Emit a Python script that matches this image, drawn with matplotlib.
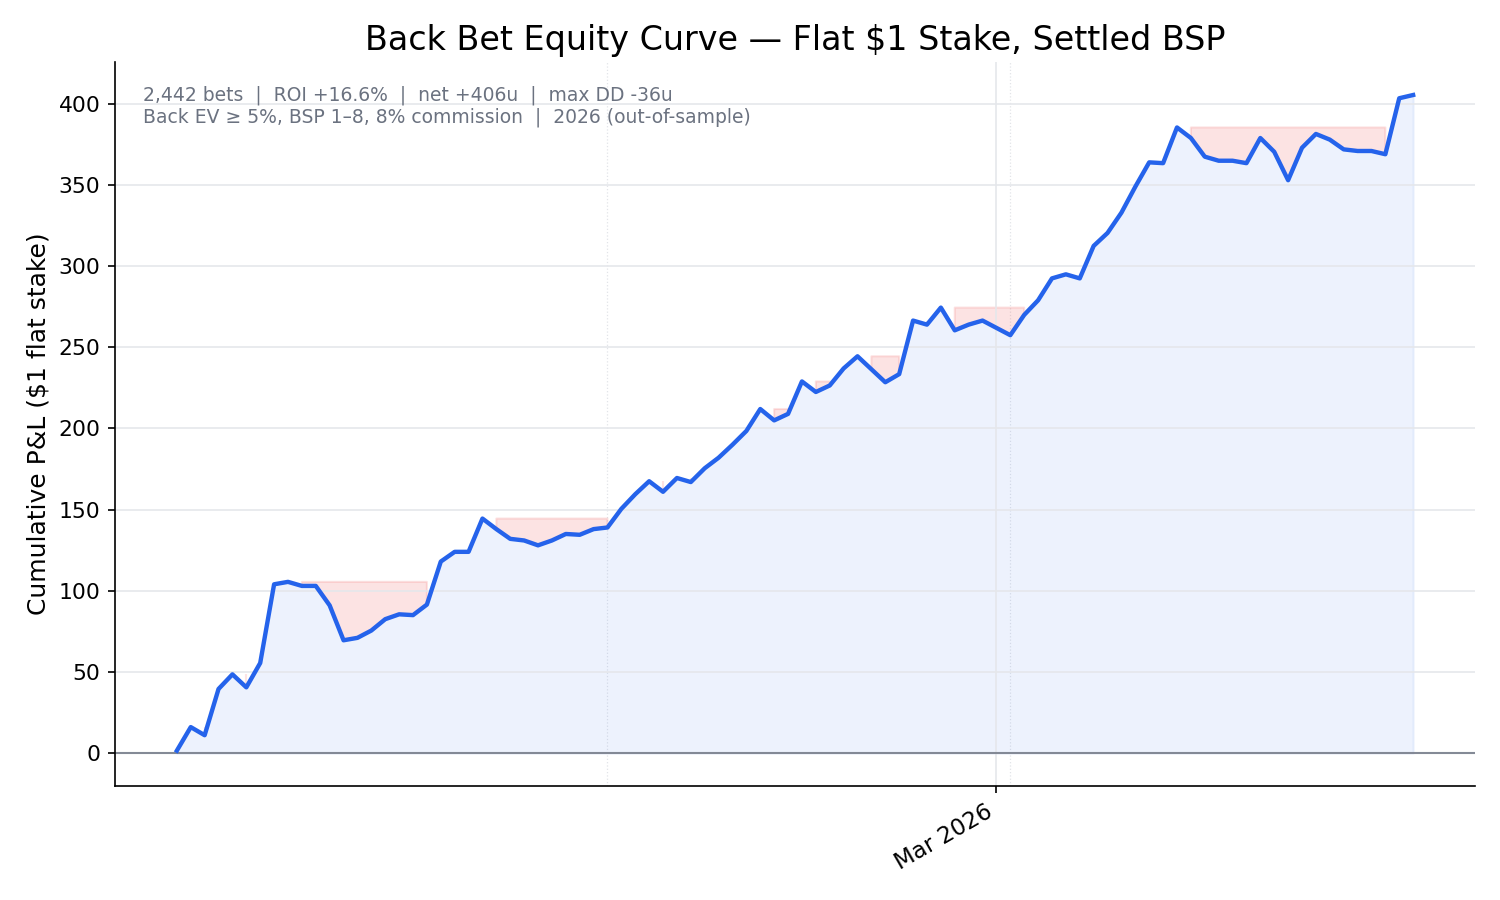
import matplotlib.pyplot as plt
import matplotlib.dates as mdates
import numpy as np
import pandas as pd

# daily settled P&L curve, 1 Jan .. 31 Mar 2026
start_date = "2026-01-01"
equity = [
    1.5, 16, 11, 39.5, 48.5, 40.5, 55.5, 104, 105.5, 103,
    103, 91, 69.5, 71, 75.5, 82.5, 85.5, 85, 91.5, 118,
    124, 124, 144.5, 138, 132, 131, 128, 131, 135, 134.5,
    138, 139, 150.5, 159.5, 167.5, 161, 169.5, 167, 175.5, 182,
    190, 198.5, 212, 205, 209, 229, 222.5, 226.5, 237, 244.5,
    236.5, 228.5, 233.5, 266.5, 264, 274.5, 260.5, 264, 266.5, 262,
    257.5, 270, 279, 292.5, 295, 292.5, 312.5, 320.5, 333, 349,
    364, 363.5, 385.5, 379, 367.5, 365, 365, 363.5, 379, 370.5,
    353, 373, 381.5, 378, 372, 371, 371, 369, 403.5, 405.5,
]
tick_dates = ["2026-03-01"]
marker_dates = ["2026-02-01", "2026-03-02"]

title = "Back Bet Equity Curve \u2014 Flat $1 Stake, Settled BSP"
stats_text = ("2,442 bets  |  ROI +16.6%  |  net +406u  |  max DD -36u\n"
              "Back EV \u2265 5%, BSP 1\u20138, 8% commission  |  2026 (out-of-sample)")

dates = pd.date_range(start_date, periods=len(equity), freq="D")
eq = np.array(equity)
peak = np.maximum.accumulate(eq)

fig, ax = plt.subplots(figsize=(10, 6), dpi=150)
fig.subplots_adjust(left=0.0767, right=0.9833, top=0.931, bottom=0.1267)

ax.grid(True, color="#e5e7eb", lw=0.8, zorder=0)
for d in marker_dates:
    ax.axvline(pd.Timestamp(d), color="#e2e4e8", ls=":", lw=0.6, zorder=0)

ax.fill_between(dates, 0, eq, color="#2563eb", alpha=0.08, zorder=1)
ax.fill_between(dates, eq, peak, where=eq < peak, color="#ef4444",
                alpha=0.15, zorder=1)
ax.axhline(0, color="#6b7280", lw=1.0, alpha=0.8, zorder=2)
ax.plot(dates, eq, color="#2563eb", lw=2.1, zorder=3)

ax.set_xticks([pd.Timestamp(d) for d in tick_dates])
ax.xaxis.set_major_formatter(mdates.DateFormatter("%b %Y"))
for lbl in ax.get_xticklabels():
    lbl.set_rotation(30)
    lbl.set_ha("right")

ax.tick_params(axis="y", labelsize=10.5)
ax.tick_params(axis="x", labelsize=11)
ax.set_ylabel("Cumulative P&L ($1 flat stake)", fontsize=12)
ax.set_title(title, fontsize=16)
ax.spines["top"].set_visible(False)
ax.spines["right"].set_visible(False)

ax.text(0.0206, 0.968, stats_text, transform=ax.transAxes, va="top",
        ha="left", fontsize=9, color="#6b7280", linespacing=1.15)

fig.savefig("out.png", dpi=150)
